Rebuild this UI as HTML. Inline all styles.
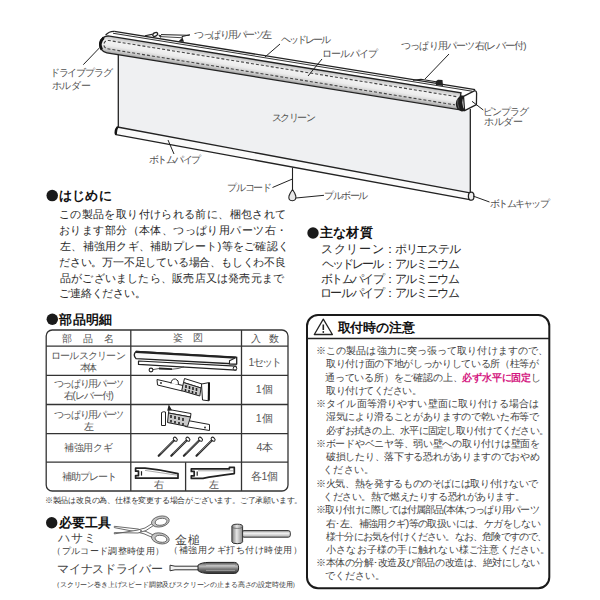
<!DOCTYPE html>
<html><head><meta charset="utf-8">
<style>
html,body{margin:0;padding:0;background:#fff;}
body{position:relative;font-family:"Liberation Sans",sans-serif;color:#333;}
.t{position:absolute;white-space:nowrap;line-height:1;}
svg{position:absolute;left:0;top:0;}

html,body{width:600px;height:600px;overflow:hidden;}
</style></head><body>
<svg width="600" height="600" viewBox="0 0 600 600">
<defs>
<linearGradient id="tube" x1="0" y1="0" x2="0" y2="1">
<stop offset="0" stop-color="#bdbdbd"/>
<stop offset="0.3" stop-color="#f2f2f2"/>
<stop offset="0.55" stop-color="#ececec"/>
<stop offset="0.85" stop-color="#c4c4c4"/>
<stop offset="1" stop-color="#9a9a9a"/>
</linearGradient>
<linearGradient id="hd" x1="0" y1="0" x2="1" y2="0">
<stop offset="0" stop-color="#999"/>
<stop offset="0.5" stop-color="#ddd"/>
<stop offset="1" stop-color="#888"/>
</linearGradient>
</defs>
<!-- screen panel -->
<polygon points="118.3,53.5 470.3,110.8 470.3,193 118.3,127.2" fill="#eff0f2"/>
<line x1="118.3" y1="53.5" x2="118.3" y2="127.5" stroke="#222" stroke-width="1.3"/>
<line x1="470.3" y1="109" x2="470.3" y2="193" stroke="#222" stroke-width="1.3"/>
<!-- bottom pipe -->
<polygon points="117.3,127 470,192.8 471,199.8 116,134.7" fill="#fafafa" stroke="#222" stroke-width="1.3" stroke-linejoin="round"/>
<path d="M117.6,127.2 Q114.5,130 116,134.7" fill="none" stroke="#111" stroke-width="2"/>
<ellipse cx="471.2" cy="196.2" rx="2.8" ry="4" fill="#eee" stroke="#222" stroke-width="1.3"/>
<!-- roller tube / head rail in rotated frame -->
<g transform="translate(140 35.5) rotate(9.17)">
<path d="M-30,5.5 L326,5.5 L326,22.4 L-30,22.4 A8.45 8.45 0 0 1 -30,5.5 Z" fill="url(#tube)" stroke="#222" stroke-width="1.4"/>
<path d="M322,9.9 L-30,9.9 A4.3,4.2 0 0 0 -30,18.3 L322,18.3" fill="none" stroke="#444" stroke-width="1.1" stroke-dasharray="3 2"/>
<path d="M-26,0 L339.5,0" stroke="#222" stroke-width="1.3"/>
<path d="M-27,2.1 L337,2.1" stroke="#333" stroke-width="1"/>
<path d="M-26,0 Q-31,0.5 -34,5" fill="none" stroke="#222" stroke-width="1.3"/>
<path d="M-35.5,8 Q-40,14 -35.5,20" fill="none" stroke="#111" stroke-width="2.6"/>
</g>
<!-- right end cap -->
<path d="M463.5,96.3 L474.8,90.6 Q476.6,90.8 476.6,93 L476.4,104.7 L464.6,110.6 Z" fill="#fff" stroke="#222" stroke-width="1.3" stroke-linejoin="round"/>
<path d="M461.5,95.2 Q455.6,98.5 455.8,104 Q456.2,110 461.8,111.6 L465.2,110.9 Q462.2,106.5 462.4,102.5 Q462.6,98.3 464.4,96.1 Z" fill="#1c1c1c"/>
<path d="M457.8,99 Q457,104 459,108.5" fill="none" stroke="#666" stroke-width="0.8"/>
<!-- small brackets on top -->
<path d="M145,35.8 L152,34.4" stroke="#222" stroke-width="1.1"/>
<ellipse cx="155.2" cy="34.4" rx="2.6" ry="1.7" transform="rotate(-30 155.2 34.4)" fill="none" stroke="#222" stroke-width="1.3"/>
<path d="M158.8,35.2 L161,35.6 L160.5,37.4 Z" fill="#222" stroke="#222" stroke-width="0.8"/>
<path d="M161,34.6 L189.5,35.3" stroke="#222" stroke-width="1"/>
<path d="M161,36.6 L183,37.8" stroke="#333" stroke-width="0.9"/>
<path d="M178,41.8 L182.5,37.4 L184,41.8 Z" fill="#222"/>
<path d="M413,80.3 L421,79.3 L436,81.8" fill="none" stroke="#222" stroke-width="1.1"/>
<path d="M435.5,81.5 L438,79.8 L442.5,80 L443,86 L436,85 Z" fill="#222"/>
<!-- pull cord -->
<line x1="292.5" y1="167.6" x2="292.5" y2="190" stroke="#222" stroke-width="1.1"/>
<path d="M292.5,189.5 Q290,193 289,196 Q288,200.5 292.3,200.8 Q296.5,200.5 295.8,196 Q295,193 292.5,189.5 Z" fill="#e8e8e8" stroke="#222" stroke-width="1.1"/>
<!-- leader lines -->
<g stroke="#222" stroke-width="1" fill="none">
<line x1="181.7" y1="36.7" x2="190" y2="34.7"/>
<line x1="265" y1="57" x2="280" y2="44"/>
<line x1="308" y1="76" x2="322" y2="59"/>
<line x1="425" y1="79" x2="449" y2="54"/>
<line x1="472" y1="101.3" x2="483.3" y2="110"/>
<line x1="83.3" y1="64.7" x2="100" y2="47.3"/>
<line x1="168" y1="140" x2="174" y2="154"/>
<line x1="272.5" y1="187.5" x2="292" y2="179.2"/>
<line x1="296" y1="198" x2="324" y2="195.3"/>
<line x1="473" y1="196" x2="489.5" y2="202"/>
</g>
</svg>
<svg width="600" height="600" viewBox="0 0 600 600">
<defs>
<linearGradient id="hm" x1="0" y1="0" x2="1" y2="0">
<stop offset="0" stop-color="#7a7a7a"/><stop offset="0.45" stop-color="#e6e6e6"/><stop offset="1" stop-color="#8a8a8a"/>
</linearGradient>
<linearGradient id="hh" x1="0" y1="0" x2="0" y2="1">
<stop offset="0" stop-color="#999"/><stop offset="0.4" stop-color="#f2f2f2"/><stop offset="1" stop-color="#aaa"/>
</linearGradient>
<linearGradient id="sd" x1="0" y1="0" x2="0" y2="1">
<stop offset="0" stop-color="#555"/><stop offset="0.35" stop-color="#bbb"/><stop offset="0.6" stop-color="#777"/><stop offset="1" stop-color="#333"/>
</linearGradient>
<linearGradient id="rb" x1="0" y1="0" x2="0" y2="1">
<stop offset="0" stop-color="#777"/><stop offset="0.5" stop-color="#ddd"/><stop offset="1" stop-color="#999"/>
</linearGradient>
</defs>
<!-- bullets -->
<g fill="#1a1a1a"><circle cx="52.2" cy="195.6" r="5.75"/><circle cx="313" cy="233" r="5.7"/><circle cx="52.3" cy="319.3" r="5.7"/><circle cx="51.7" cy="522.7" r="5.7"/></g>
<!-- table -->
<g fill="none" stroke="#333" stroke-width="1.3">
<rect x="46.2" y="330" width="241.8" height="161" rx="6" ry="6"/>
<line x1="46.2" y1="346.1" x2="288" y2="346.1"/>
<line x1="46.2" y1="375.3" x2="288" y2="375.3"/>
<line x1="46.2" y1="404.5" x2="288" y2="404.5"/>
<line x1="46.2" y1="433.6" x2="288" y2="433.6"/>
<line x1="46.2" y1="462.2" x2="288" y2="462.2"/>
<line x1="130.8" y1="330" x2="130.8" y2="491"/>
<line x1="241.5" y1="330" x2="241.5" y2="491"/>
<line x1="185.6" y1="462.2" x2="185.6" y2="491"/>
</g>
<!-- part 1: roll screen -->
<path d="M136,351.5 L236.6,357.3 L236.6,364 L136,358.6 Q132.5,355 136,351.5 Z" fill="#fafafa" stroke="#222" stroke-width="1.3" stroke-linejoin="round"/>
<path d="M136,351.8 L236,357.6" stroke="#222" stroke-width="2.2"/>
<path d="M229.5,360.8 L236.6,357.3 L236.6,364 L229.5,364 Z" fill="#fff" stroke="#222" stroke-width="1.1"/>
<path d="M138.5,361 L236,366.2 L236,370.2 L138.5,364.4 Z" fill="#fff" stroke="#222" stroke-width="1.2" stroke-linejoin="round"/>
<circle cx="235" cy="368.3" r="1.8" fill="#fff" stroke="#222" stroke-width="1"/>
<path d="M153,369.6 L159,368.5" stroke="#444" stroke-width="0.9"/>
<path d="M159,368.5 L172,369.2" stroke="#222" stroke-width="1.8"/>
<path d="M172,369.2 Q178,369 184,366.8" fill="none" stroke="#444" stroke-width="0.9"/>
<circle cx="151" cy="370" r="1.9" fill="#fff" stroke="#222" stroke-width="1.1"/>
<!-- part 2 -->
<g stroke="#222" stroke-width="1" stroke-linejoin="round">
<path d="M157,379.5 L183,385.5 L182.3,391 L157.5,385 Z" fill="#fff"/>
<path d="M171,383.5 Q171.5,378.5 175.5,379 Q179,380 178.5,384.5" fill="#fff"/>
<path d="M184.5,378.5 L202,384 L201,388 L183.5,382.5 Z" fill="#fff"/>
<path d="M183.5,382.5 L201,388 L199.8,396 L181.7,390.7 Z" fill="#c8c8c8"/>
<path d="M201.5,384 L209.5,382.5 L209,400.8 L202.5,400 Z" fill="#fff"/>
</g>
<g stroke="#222" stroke-width="1.6">
<line x1="186" y1="385" x2="186" y2="388"/><line x1="189.5" y1="386" x2="189.5" y2="389"/><line x1="193" y1="387" x2="193" y2="390"/><line x1="196.5" y1="388" x2="196.5" y2="391"/>
<line x1="185.5" y1="389" x2="185.5" y2="391.5"/><line x1="189" y1="390" x2="189" y2="392.5"/><line x1="192.5" y1="391" x2="192.5" y2="393.5"/><line x1="196" y1="392" x2="196" y2="394.5"/>
</g>
<line x1="209" y1="383" x2="208.7" y2="400.5" stroke="#111" stroke-width="2"/>
<circle cx="161" cy="383" r="0.9" fill="#222"/>
<!-- part 3 -->
<g stroke="#222" stroke-width="1" stroke-linejoin="round">
<path d="M185,420 L209.5,424.5 L209.5,430.5 L185,426.5 Z" fill="#fff"/>
<path d="M169,409.5 L191,413.5 L190.5,417 L168.5,413 Z" fill="#fff"/>
<path d="M168.5,413 L190.5,417 L187.5,426.5 L167.5,422.5 Z" fill="#c8c8c8"/>
<path d="M161.5,412.5 Q163.5,411.2 165.5,412 L165.5,425.5 L161.5,425.5 Z" fill="#fff"/>
</g>
<g stroke="#222" stroke-width="1.6">
<line x1="171" y1="415" x2="171" y2="418"/><line x1="175" y1="416" x2="175" y2="419"/><line x1="179" y1="417" x2="179" y2="420"/><line x1="183" y1="418" x2="183" y2="421"/>
<line x1="171" y1="420" x2="171" y2="422.5"/><line x1="175" y1="421" x2="175" y2="423.5"/><line x1="179" y1="422" x2="179" y2="424.5"/><line x1="183" y1="423" x2="183" y2="425.5"/>
</g>
<path d="M169,406 L171,409.8 L168,410 Z" fill="#222" stroke="#222" stroke-width="1.2"/>
<circle cx="205" cy="427.5" r="0.9" fill="#222"/>
<!-- nails -->
<line x1="158.7" y1="455.8" x2="174.2" y2="440.3" stroke="#2a2a2a" stroke-width="2.2" stroke-linecap="round"/>
<line x1="160.5" y1="453.6" x2="173.5" y2="440.8" stroke="#aaa" stroke-width="0.6"/>
<ellipse cx="175.3" cy="439.2" rx="1.6" ry="2.3" transform="rotate(-45 175.3 439.2)" fill="#fff" stroke="#222" stroke-width="1"/>
<line x1="171.3" y1="455.8" x2="186.8" y2="440.3" stroke="#2a2a2a" stroke-width="2.2" stroke-linecap="round"/>
<line x1="173.1" y1="453.6" x2="186.1" y2="440.8" stroke="#aaa" stroke-width="0.6"/>
<ellipse cx="187.9" cy="439.2" rx="1.6" ry="2.3" transform="rotate(-45 187.9 439.2)" fill="#fff" stroke="#222" stroke-width="1"/>
<line x1="183.9" y1="455.8" x2="199.4" y2="440.3" stroke="#2a2a2a" stroke-width="2.2" stroke-linecap="round"/>
<line x1="185.7" y1="453.6" x2="198.7" y2="440.8" stroke="#aaa" stroke-width="0.6"/>
<ellipse cx="200.5" cy="439.2" rx="1.6" ry="2.3" transform="rotate(-45 200.5 439.2)" fill="#fff" stroke="#222" stroke-width="1"/>
<line x1="196.5" y1="455.8" x2="212.0" y2="440.3" stroke="#2a2a2a" stroke-width="2.2" stroke-linecap="round"/>
<line x1="198.3" y1="453.6" x2="211.3" y2="440.8" stroke="#aaa" stroke-width="0.6"/>
<ellipse cx="213.1" cy="439.2" rx="1.6" ry="2.3" transform="rotate(-45 213.1 439.2)" fill="#fff" stroke="#222" stroke-width="1"/>
<!-- plates -->
<g fill="#fff" stroke="#222" stroke-width="1.7" stroke-linejoin="round">
<path d="M135.6,468.2 L145,468.2 Q162,469.8 178,473.6 L178,478.2 L135.6,478.2 L135.6,475.6 L138.5,475.6 L138.5,471.2 L135.6,471.2 Z"/>
<path d="M191.3,468.8 L229.4,468.8 L229.4,467.4 L234.3,467.4 L234.3,473.6 Q214,476 203,478.4 L191.3,478.4 L191.3,475.8 L194.2,475.8 L194.2,471.4 L191.3,471.4 Z"/>
</g>
<g stroke="#222" stroke-width="1.2"><line x1="141.5" y1="471.2" x2="141.5" y2="475.6"/><line x1="197.2" y1="471.4" x2="197.2" y2="475.8"/></g>
<line x1="145" y1="470.4" x2="177" y2="475.2" stroke="#888" stroke-width="0.7"/>
<line x1="198" y1="470.8" x2="233" y2="470.8" stroke="#888" stroke-width="0.7"/>
<!-- warning box -->
<rect x="307" y="315" width="242.3" height="273.3" rx="11" ry="11" fill="none" stroke="#1a1a1a" stroke-width="2"/>
<line x1="307" y1="338.5" x2="549.3" y2="338.5" stroke="#222" stroke-width="1.3"/>
<path d="M323.3,319.2 L314.3,334.5 L332.4,334.5 Z" fill="none" stroke="#222" stroke-width="1.3" stroke-linejoin="round"/>
<line x1="323.3" y1="324.5" x2="323.3" y2="330" stroke="#222" stroke-width="1.6"/>
<circle cx="323.3" cy="332" r="0.9" fill="#222"/>
<!-- scissors -->
<g stroke="#5a5a5a" stroke-width="0.9" fill="#fff" stroke-linejoin="round">
<path d="M114.3,526.3 L138,529 L146,531.5 L153.5,535.2 L152.5,537.5 L144,533.8 L137,532 L114.3,527.6 Z"/>
<path d="M114.3,533.9 L137,530.2 L145,528 L152.5,523.3 L153.5,525.5 L146,530.5 L138,533 L114.3,532.6 Z"/>
</g>
<g fill-rule="evenodd" fill="#c4c4c4" stroke="#5a5a5a" stroke-width="0.9">
<path d="M151.7,521.5 a8.65,5.15 -12 1,0 17.3,0 a8.65,5.15 -12 1,0 -17.3,0 Z M155.3,521.8 a5.7,3.2 -12 1,0 11.4,0 a5.7,3.2 -12 1,0 -11.4,0 Z"/>
<path d="M151.7,538.4 a8.65,5.15 12 1,0 17.3,0 a8.65,5.15 12 1,0 -17.3,0 Z M155.3,538.8 a5.7,3.2 12 1,0 11.4,0 a5.7,3.2 12 1,0 -11.4,0 Z"/>
</g>
<circle cx="141" cy="531" r="1" fill="#666"/>
<!-- hammer -->
<rect x="242" y="530.6" width="48.3" height="6.6" rx="2" fill="url(#hh)" stroke="#333" stroke-width="1"/>
<path d="M231.9,526.3 a5.35,2.1 0 0 1 10.7,0 L242.6,541.8 a5.35,1.9 0 0 1 -10.7,0 Z" fill="url(#hm)" stroke="#333" stroke-width="1"/>
<path d="M231.9,526.3 a5.35,2.1 0 0 0 10.7,0" fill="none" stroke="#555" stroke-width="0.7"/>
<!-- screwdriver -->
<path d="M170,565.2 L175,566.2 L198.5,566.2 L198.5,569.8 L175,569.8 L170,570.8 Z" fill="#f2f2f2" stroke="#333" stroke-width="1"/>
<path d="M198,565.2 Q201,562.4 209,562.4 L234.5,562.4 Q238.6,562.6 238.6,567.9 Q238.6,573.2 234.5,573.4 L209,573.4 Q201,573.4 198,570.6 Z" fill="url(#sd)" stroke="#222" stroke-width="1"/>
<line x1="206" y1="565.4" x2="235" y2="565.4" stroke="#ccc" stroke-width="0.8"/>
<line x1="206" y1="570.4" x2="235" y2="570.4" stroke="#aaa" stroke-width="0.8"/>
</svg>

<div class="t" style="left:194.0px;top:29.5px;font-size:9.8px;font-weight:400;color:#505050;-webkit-text-stroke:0;letter-spacing:-1.44px">つっぱり用パーツ左</div>
<div class="t" style="left:281.0px;top:34.5px;font-size:9.8px;font-weight:400;color:#505050;-webkit-text-stroke:0;letter-spacing:-2.00px">ヘッドレール</div>
<div class="t" style="left:322.0px;top:48.5px;font-size:9.8px;font-weight:400;color:#505050;-webkit-text-stroke:0;letter-spacing:-0.80px">ロールパイプ</div>
<div class="t" style="left:401.0px;top:40.5px;font-size:9.8px;font-weight:400;color:#505050;-webkit-text-stroke:0;letter-spacing:-0.79px">つっぱり用パーツ右(レバー付)</div>
<div class="t" style="left:49.7px;top:67.8px;font-size:9.8px;font-weight:400;color:#505050;-webkit-text-stroke:0;letter-spacing:-1.17px">ドライブプラグ</div>
<div class="t" style="left:51.7px;top:80.8px;font-size:9.8px;font-weight:400;color:#505050;-webkit-text-stroke:0;letter-spacing:-0.23px">ホルダー</div>
<div class="t" style="left:483.3px;top:106.8px;font-size:9.8px;font-weight:400;color:#505050;-webkit-text-stroke:0;letter-spacing:-1.15px">ピンプラグ</div>
<div class="t" style="left:484.3px;top:116.8px;font-size:9.8px;font-weight:400;color:#505050;-webkit-text-stroke:0;letter-spacing:-0.43px">ホルダー</div>
<div class="t" style="left:271.5px;top:113.2px;font-size:9.8px;font-weight:400;color:#505050;-webkit-text-stroke:0;letter-spacing:-1.38px">スクリーン</div>
<div class="t" style="left:149.0px;top:154.5px;font-size:9.8px;font-weight:400;color:#505050;-webkit-text-stroke:0;letter-spacing:-1.60px">ボトムパイプ</div>
<div class="t" style="left:227.3px;top:183.0px;font-size:9.8px;font-weight:400;color:#505050;-webkit-text-stroke:0;letter-spacing:-1.38px">プルコード</div>
<div class="t" style="left:324.3px;top:191.3px;font-size:9.8px;font-weight:400;color:#505050;-webkit-text-stroke:0;letter-spacing:-1.58px">プルボール</div>
<div class="t" style="left:490.0px;top:198.6px;font-size:9.8px;font-weight:400;color:#505050;-webkit-text-stroke:0;letter-spacing:-1.72px">ボトムキャップ</div>
<div class="t" style="left:59.0px;top:188.8px;font-size:13px;font-weight:700;color:#111;letter-spacing:0.23px">はじめに</div>
<div class="t" style="left:320.0px;top:225.7px;font-size:13px;font-weight:700;color:#111;letter-spacing:0.23px">主な材質</div>
<div class="t" style="left:59.3px;top:312.5px;font-size:13px;font-weight:700;color:#111;letter-spacing:0.23px">部品明細</div>
<div class="t" style="left:58.7px;top:515.5px;font-size:13px;font-weight:700;color:#111;letter-spacing:0.20px">必要工具</div>
<div class="t" style="left:337.5px;top:320.6px;font-size:13px;font-weight:700;color:#111;letter-spacing:-0.10px">取付時の注意</div>
<div class="t" style="left:59.0px;top:208.5px;font-size:11.4px;font-weight:400;color:#2a2a2a;letter-spacing:0.37px">この製品を取り付けられる前に、梱包されて</div>
<div class="t" style="left:59.0px;top:224.5px;font-size:11.4px;font-weight:400;color:#2a2a2a;letter-spacing:0.42px">おります部分（本体、つっぱり用パーツ右・</div>
<div class="t" style="left:60.0px;top:240.5px;font-size:11.4px;font-weight:400;color:#2a2a2a;letter-spacing:0.25px">左、補強用クギ、補助プレート)等をご確認く</div>
<div class="t" style="left:59.0px;top:256.5px;font-size:11.4px;font-weight:400;color:#2a2a2a;letter-spacing:-0.20px">ださい。万一不足している場合、もしくわ不良</div>
<div class="t" style="left:60.0px;top:272.5px;font-size:11.4px;font-weight:400;color:#2a2a2a;letter-spacing:0.21px">品がございましたら、販売店又は発売元まで</div>
<div class="t" style="left:59.0px;top:288.0px;font-size:11.4px;font-weight:400;color:#2a2a2a;letter-spacing:-0.14px">ご連絡ください。</div>
<div class="t" style="left:320.7px;top:243.2px;font-size:12px;font-weight:400;color:#2a2a2a;letter-spacing:0.83px">スクリーン</div>
<div class="t" style="left:384.0px;top:243.2px;font-size:12px;font-weight:400;color:#2a2a2a;letter-spacing:-1.17px">：ポリエステル</div>
<div class="t" style="left:321.7px;top:258.0px;font-size:12px;font-weight:400;color:#2a2a2a;letter-spacing:-1.98px">ヘッドレール</div>
<div class="t" style="left:384.0px;top:258.0px;font-size:12px;font-weight:400;color:#2a2a2a;letter-spacing:-1.33px">：アルミニウム</div>
<div class="t" style="left:320.7px;top:273.2px;font-size:12px;font-weight:400;color:#2a2a2a;letter-spacing:-1.58px">ボトムパイプ</div>
<div class="t" style="left:384.0px;top:272.7px;font-size:12px;font-weight:400;color:#2a2a2a;letter-spacing:-1.33px">：アルミニウム</div>
<div class="t" style="left:319.7px;top:287.2px;font-size:12px;font-weight:400;color:#2a2a2a;letter-spacing:-1.38px">ロールパイプ</div>
<div class="t" style="left:384.0px;top:286.7px;font-size:12px;font-weight:400;color:#2a2a2a;letter-spacing:-1.33px">：アルミニウム</div>
<div class="t" style="left:61.5px;top:333.5px;font-size:10.2px;font-weight:400;color:#555;letter-spacing:0.50px">部　品　名</div>
<div class="t" style="left:173.1px;top:333.0px;font-size:10.2px;font-weight:400;color:#555;letter-spacing:0.15px">姿　図</div>
<div class="t" style="left:250.7px;top:333.5px;font-size:10.2px;font-weight:400;color:#555;letter-spacing:-0.70px">入　数</div>
<div class="t" style="left:50.8px;top:351.0px;font-size:10px;font-weight:400;color:#555;letter-spacing:-0.74px">ロールスクリーン</div>
<div class="t" style="left:80.0px;top:362.7px;font-size:10px;font-weight:400;color:#555;letter-spacing:-2.70px">本体</div>
<div class="t" style="left:53.8px;top:379.4px;font-size:10px;font-weight:400;color:#555;letter-spacing:-1.37px">つっぱり用パーツ</div>
<div class="t" style="left:63.7px;top:391.4px;font-size:10px;font-weight:400;color:#555;letter-spacing:-1.07px">右(レバー付)</div>
<div class="t" style="left:53.8px;top:409.5px;font-size:10px;font-weight:400;color:#555;letter-spacing:-1.37px">つっぱり用パーツ</div>
<div class="t" style="left:83.5px;top:422.0px;font-size:10px;font-weight:400;color:#555;letter-spacing:0.00px">左</div>
<div class="t" style="left:64.1px;top:442.7px;font-size:10px;font-weight:400;color:#555;letter-spacing:-0.38px">補強用クギ</div>
<div class="t" style="left:61.7px;top:471.7px;font-size:10px;font-weight:400;color:#555;letter-spacing:-1.00px">補助プレート</div>
<div class="t" style="left:153.5px;top:480.0px;font-size:10px;font-weight:400;color:#555;letter-spacing:0.00px">右</div>
<div class="t" style="left:209.0px;top:480.0px;font-size:10px;font-weight:400;color:#555;letter-spacing:0.00px">左</div>
<div class="t" style="left:248.5px;top:356.5px;font-size:10.5px;font-weight:400;color:#555;letter-spacing:-1.63px">1セット</div>
<div class="t" style="left:255.7px;top:384.0px;font-size:10.5px;font-weight:400;color:#555;letter-spacing:0.70px">1個</div>
<div class="t" style="left:255.7px;top:413.0px;font-size:10.5px;font-weight:400;color:#555;letter-spacing:0.70px">1個</div>
<div class="t" style="left:256.5px;top:441.5px;font-size:10.5px;font-weight:400;color:#555;letter-spacing:-0.50px">4本</div>
<div class="t" style="left:250.7px;top:470.9px;font-size:10.5px;font-weight:400;color:#555;letter-spacing:-0.25px">各1個</div>
<div class="t" style="left:44.8px;top:497.4px;font-size:7.5px;font-weight:400;color:#333;-webkit-text-stroke:0;letter-spacing:-0.20px">※製品は改良の為、仕様を変更する場合がございます。ご了承願います。</div>
<div class="t" style="left:58.4px;top:532.0px;font-size:12px;font-weight:400;color:#444;-webkit-text-stroke:0;letter-spacing:0.80px">ハサミ</div>
<div class="t" style="left:52.4px;top:546.5px;font-size:8.5px;font-weight:400;color:#3a3a3a;-webkit-text-stroke:0;letter-spacing:0.33px">（プルコード調整時使用）</div>
<div class="t" style="left:175.4px;top:533.5px;font-size:12px;font-weight:400;color:#444;-webkit-text-stroke:0;letter-spacing:0.90px">金槌</div>
<div class="t" style="left:169.4px;top:546.3px;font-size:8.5px;font-weight:400;color:#3a3a3a;-webkit-text-stroke:0;letter-spacing:0.48px">（補強用クギ打ち付け時使用）</div>
<div class="t" style="left:57.4px;top:562.8px;font-size:12px;font-weight:400;color:#444;-webkit-text-stroke:0;letter-spacing:-0.34px">マイナスドライバー</div>
<div class="t" style="left:53.0px;top:580.5px;font-size:7.2px;font-weight:400;color:#333;-webkit-text-stroke:0;letter-spacing:-0.16px">（スクリーン巻き上げスピード調節及びスクリーンの止まる高さの設定時使用）</div>
<div class="t" style="left:316.0px;top:346.0px;font-size:10.3px;font-weight:400;color:#444;letter-spacing:0.09px">※この製品は強力に突っ張って取り付けますので、</div>
<div class="t" style="left:326.0px;top:359.3px;font-size:10.3px;font-weight:400;color:#444;letter-spacing:-0.33px">取り付け面の下地がしっかりしている所（柱等が</div>
<div class="t" style="left:325.0px;top:372.5px;font-size:10.3px;font-weight:400;color:#444;letter-spacing:-0.19px">通っている所）をご確認の上、<b style="color:#d4177f">必ず水平に固定</b>し</div>
<div class="t" style="left:326.0px;top:385.8px;font-size:10.3px;font-weight:400;color:#444;letter-spacing:-0.44px">取り付けてください。</div>
<div class="t" style="left:316.0px;top:399.1px;font-size:10.3px;font-weight:400;color:#444;letter-spacing:0.14px">※タイル面等滑りやすい壁面に取り付ける場合は</div>
<div class="t" style="left:326.0px;top:412.4px;font-size:10.3px;font-weight:400;color:#444;letter-spacing:-0.33px">湿気により滑ることがありますので乾いた布等で</div>
<div class="t" style="left:326.0px;top:425.6px;font-size:10.3px;font-weight:400;color:#444;letter-spacing:-0.74px">必ずお拭きの上、水平に固定し取り付けてください。</div>
<div class="t" style="left:316.0px;top:438.9px;font-size:10.3px;font-weight:400;color:#444;letter-spacing:-0.27px">※ボードやベニヤ等、弱い壁への取り付けは壁面を</div>
<div class="t" style="left:326.0px;top:452.2px;font-size:10.3px;font-weight:400;color:#444;letter-spacing:-0.29px">破損したり、落下する恐れがありますのでおやめ</div>
<div class="t" style="left:323.0px;top:464.9px;font-size:10.3px;font-weight:400;color:#444;letter-spacing:0.25px">ください。</div>
<div class="t" style="left:316.0px;top:478.7px;font-size:10.3px;font-weight:400;color:#444;letter-spacing:-0.35px">※火気、熱を発するもののそばには取り付けないで</div>
<div class="t" style="left:323.0px;top:492.0px;font-size:10.3px;font-weight:400;color:#444;letter-spacing:-0.42px">ください。熱で燃えたりする恐れがあります。</div>
<div class="t" style="left:316.0px;top:505.2px;font-size:10.3px;font-weight:400;color:#444;letter-spacing:-0.91px">※取り付けに際しては付属部品(本体,つっぱり用パーツ</div>
<div class="t" style="left:326.0px;top:518.5px;font-size:10.3px;font-weight:400;color:#444;letter-spacing:-0.59px">右･左、補強用クギ)等の取扱いには、ケガをしない</div>
<div class="t" style="left:326.0px;top:531.8px;font-size:10.3px;font-weight:400;color:#444;letter-spacing:-0.81px">様十分にお気を付けください。なお、危険ですので、</div>
<div class="t" style="left:326.0px;top:545.0px;font-size:10.3px;font-weight:400;color:#444;letter-spacing:0.21px">小さなお子様の手に触れない様ご注意ください。</div>
<div class="t" style="left:316.0px;top:558.3px;font-size:10.3px;font-weight:400;color:#444;letter-spacing:-0.46px">※本体の分解･改造及び部品の改造は、絶対にしない</div>
<div class="t" style="left:325.0px;top:571.1px;font-size:10.3px;font-weight:400;color:#444;letter-spacing:-0.06px">でください。</div>
</body></html>
